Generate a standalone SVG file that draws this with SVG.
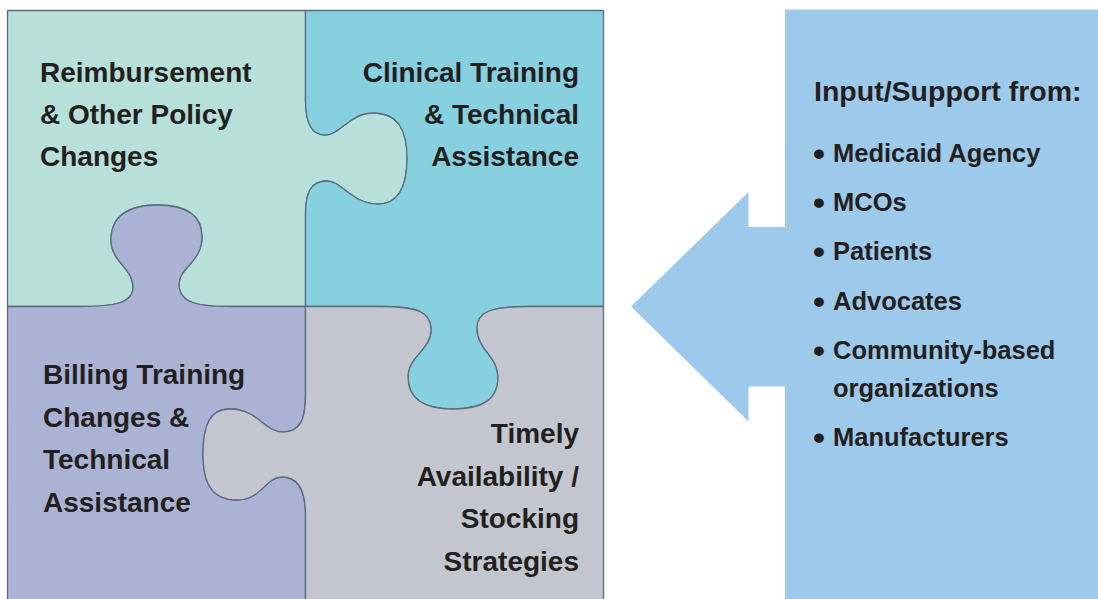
<svg xmlns="http://www.w3.org/2000/svg" width="1098" height="599" viewBox="0 0 1098 599">
  <style>
    .piece { stroke: #5b6b7c; stroke-width: 1.3; stroke-linejoin: round; }
    .lbl { font-family: "Liberation Sans", Arial, sans-serif; font-weight: bold; font-size: 28px; fill: #231f20; }
    .end { text-anchor: end; }
    .head { font-family: "Liberation Sans", Arial, sans-serif; font-weight: bold; font-size: 28.5px; fill: #231f20; }
    .item { font-family: "Liberation Sans", Arial, sans-serif; font-weight: bold; font-size: 25.5px; fill: #231f20; }
    .dot { font-family: "Liberation Sans", Arial, sans-serif; font-weight: bold; font-size: 34px; fill: #231f20; }
    .blue { fill: #9dc9eb; }
  </style>

  <!-- Puzzle: four interlocking pieces -->
  <g id="piece-policy">
    <path class="piece" fill="#b6e0d9" d="M7.5,10.5 H305.5
      L305.5,100 C305.5,122 311,135 325,135 C340,135 350,113 373,113 C398,113 407,130 407,158
      C407,188 398,204 378,204 C352,204 342,181 327,181 C311,181 305.5,192 305.5,214 L305.5,306.5
      L230,306.5 C195,306.5 179,302 179,284 C179,268 202,262 202,237 C202,215 186,205 157,205
      C130,205 111,215 111,240 C111,262 133,268 133,287 C133,303 115,306.5 80,306.5 L7.5,306.5 Z"/>
    <text class="lbl" x="40" y="82">Reimbursement</text>
    <text class="lbl" x="40" y="124">&amp; Other Policy</text>
    <text class="lbl" x="40" y="166">Changes</text>
  </g>

  <g id="piece-clinical">
    <path class="piece" fill="#86d0df" d="M305.5,10.5 H603.5 V306.5
      L530,306.5 C490,306.5 477,312 477,328 C477,350 498,356 498,377 C498,400 482,409 453,409
      C426,409 408,400 408,377 C408,356 431,350 431,330 C431,312 418,306.5 380,306.5 L305.5,306.5
      L305.5,214 C305.5,192 311,181 327,181 C342,181 352,204 378,204 C398,204 407,188 407,158
      C407,130 398,113 373,113 C350,113 340,135 325,135 C311,135 305.5,122 305.5,100 Z"/>
    <text class="lbl end" x="579" y="82">Clinical Training</text>
    <text class="lbl end" x="579" y="124">&amp; Technical</text>
    <text class="lbl end" x="579" y="166">Assistance</text>
  </g>

  <g id="piece-billing">
    <path class="piece" fill="#aab3d4" d="M7.5,306.5
      L80,306.5 C115,306.5 133,303 133,287 C133,268 111,262 111,240 C111,215 130,205 157,205
      C186,205 202,215 202,237 C202,262 179,268 179,284 C179,302 195,306.5 230,306.5 L305.5,306.5
      L305.5,395 C305.5,420 300,432 283,432 C264,432 258,409 230,409 C210,409 203,425 203,454
      C203,485 213,500 237,500 C262,500 265,477 282,477 C298,477 305.5,490 305.5,515 L305.5,602
      H7.5 Z"/>
    <text class="lbl" x="43" y="384">Billing Training</text>
    <text class="lbl" x="43" y="427">Changes &amp;</text>
    <text class="lbl" x="43" y="469">Technical</text>
    <text class="lbl" x="43" y="512">Assistance</text>
  </g>

  <g id="piece-stocking">
    <path class="piece" fill="#c3c6ce" d="M305.5,306.5
      L380,306.5 C418,306.5 431,312 431,330 C431,350 408,356 408,377 C408,400 426,409 453,409
      C482,409 498,400 498,377 C498,356 477,350 477,328 C477,312 490,306.5 530,306.5 L603.5,306.5
      V602 H305.5
      L305.5,515 C305.5,490 298,477 282,477 C265,477 262,500 237,500 C213,500 203,485 203,454
      C203,425 210,409 230,409 C258,409 264,432 283,432 C300,432 305.5,420 305.5,395 Z"/>
    <text class="lbl end" x="579" y="443">Timely</text>
    <text class="lbl end" x="579" y="485.5">Availability /</text>
    <text class="lbl end" x="579" y="528">Stocking</text>
    <text class="lbl end" x="579" y="570.5">Strategies</text>
  </g>

  <!-- Input / support panel -->
  <g id="support">
    <rect class="blue" x="785" y="9.5" width="313" height="592"/>
    <text class="head" x="814" y="100.7">Input/Support from:</text>
    <text class="dot" x="813" y="164.5">•</text>
    <text class="item" x="833" y="161.7">Medicaid Agency</text>
    <text class="dot" x="813" y="214">•</text>
    <text class="item" x="833" y="211.3">MCOs</text>
    <text class="dot" x="813" y="263">•</text>
    <text class="item" x="833" y="260.3">Patients</text>
    <text class="dot" x="813" y="313">•</text>
    <text class="item" x="833" y="310.3">Advocates</text>
    <text class="dot" x="813" y="362">•</text>
    <text class="item" x="833" y="359.3">Community-based</text>
    <text class="item" x="833" y="396.7">organizations</text>
    <text class="dot" x="813" y="448.5">•</text>
    <text class="item" x="833" y="445.7">Manufacturers</text>
  </g>

  <!-- Arrow from the panel towards the puzzle -->
  <g id="connectors">
    <path class="blue" d="M786,227 H748.5 V192 L631,306.5 L748.5,421.5 V386.5 H786 Z"/>
  </g>
</svg>
